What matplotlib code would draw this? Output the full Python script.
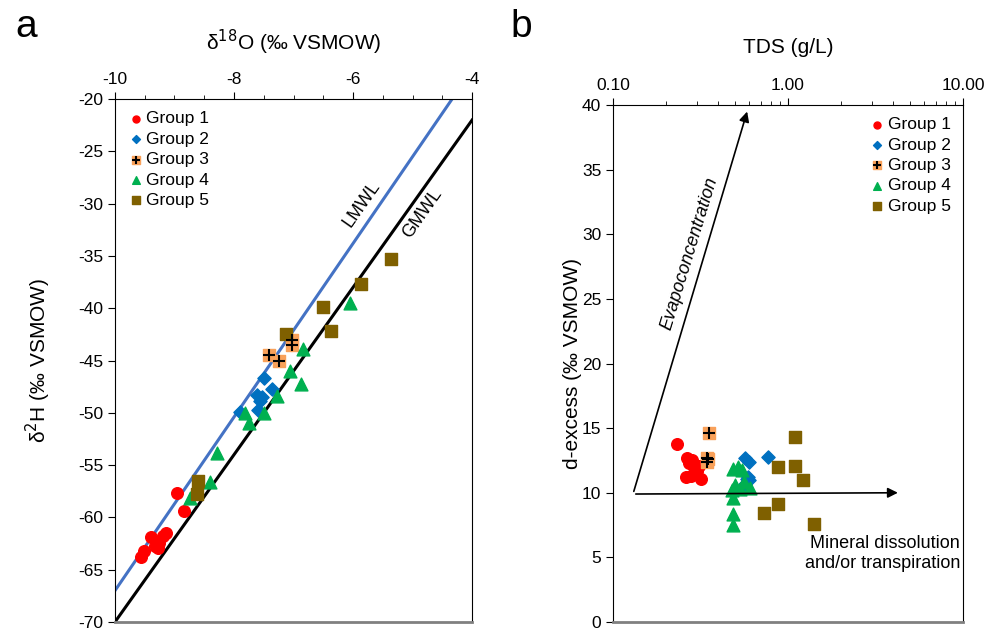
import numpy as np
import matplotlib
matplotlib.use("Agg")
import matplotlib.pyplot as plt
from matplotlib.ticker import FixedLocator, NullFormatter
from matplotlib.legend_handler import HandlerTuple

plt.rcParams["font.family"] = ["Liberation Sans", "DejaVu Sans"]
plt.rcParams["axes.unicode_minus"] = False

# ---- panel a: d18O vs d2H ----
g1_o = [-8.96, -8.84, -9.40, -9.52, -9.57, -9.33, -9.26, -9.20, -9.15, -9.28]
g1_h = [-57.7, -59.4, -61.9, -63.2, -63.8, -62.7, -62.4, -61.8, -61.5, -62.9]
g2_o = [-7.49, -7.37, -7.62, -7.53, -7.56, -7.59, -7.90]
g2_h = [-46.7, -47.7, -48.3, -48.5, -48.9, -49.7, -49.9]
g3_o = [-7.41, -7.25, -7.02, -7.03]
g3_h = [-44.5, -45.0, -43.0, -43.5]
g4_o = [-6.05, -6.84, -7.06, -6.88, -7.28, -7.82, -7.50, -7.74, -8.29, -8.40, -8.74]
g4_h = [-39.5, -43.9, -46.0, -47.2, -48.4, -50.0, -50.0, -51.0, -53.8, -56.6, -58.1]
g5_o = [-6.51, -6.37, -7.13, -8.61, -8.63, -5.36, -5.87]
g5_h = [-39.9, -42.2, -42.5, -56.5, -57.8, -35.3, -37.7]

# ---- panel b: TDS vs d-excess ----
g1_tds = [0.232, 0.266, 0.282, 0.308, 0.301, 0.261, 0.278, 0.317, 0.290, 0.270]
g1_d = [13.8, 12.7, 12.5, 12.1, 11.7, 11.2, 11.3, 11.1, 12.0, 12.3]
g2_tds = [0.568, 0.601, 0.771, 0.581, 0.601, 0.568, 0.590]
g2_d = [12.7, 12.35, 12.8, 11.1, 11.0, 10.7, 11.2]
g3_tds = [0.355, 0.343, 0.343, 0.350]
g3_d = [14.6, 12.7, 12.4, 12.6]
g4_tds = [0.483, 0.520, 0.545, 0.476, 0.531, 0.606, 0.483, 0.483, 0.483, 0.500, 0.560]
g4_d = [11.8, 12.0, 11.75, 10.2, 10.3, 10.4, 9.6, 8.35, 7.5, 10.6, 10.8]
g5_tds = [1.096, 1.096, 0.873, 1.224, 0.873, 0.730, 1.41]
g5_d = [14.3, 12.1, 12.0, 11.0, 9.1, 8.4, 7.6]

red, blue, orange, green, brown = "#FF0000", "#0070C0", "#F9A15A", "#00B050", "#7F6000"


def draw_groups(ax, xs, ys):
    h1 = ax.scatter(xs[0], ys[0], s=70, marker="o", color=red, zorder=3)
    h2 = ax.scatter(xs[1], ys[1], s=45, marker="D", color=blue, zorder=3)
    h3a = ax.scatter(xs[2], ys[2], s=75, marker="s", color=orange, zorder=3)
    h3b = ax.scatter(xs[2], ys[2], s=80, marker="+", color="black", linewidths=1.5, zorder=4)
    h4 = ax.scatter(xs[3], ys[3], s=85, marker="^", color=green, zorder=3)
    h5 = ax.scatter(xs[4], ys[4], s=75, marker="s", color=brown, zorder=3)
    return [h1, h2, (h3a, h3b), h4, h5]


labels = ["Group 1", "Group 2", "Group 3", "Group 4", "Group 5"]
leg_kw = dict(frameon=False, fontsize=12.5, handletextpad=0.1, handlelength=1.0,
              labelspacing=0.3, markerscale=0.6,
              handler_map={tuple: HandlerTuple(ndivide=1, pad=0)})

fig = plt.figure(figsize=(9.92, 6.33), dpi=100)

# panel a
ax1 = fig.add_axes([0.1159, 0.0174, 0.360, 0.826])
xl = np.array([-10, -4])
ax1.plot(xl, 8 * xl + 10, color="black", lw=2.2, zorder=2)
ax1.plot(xl, 8.3 * xl + 16, color="#4472C4", lw=2.2, zorder=2)
hs = draw_groups(ax1, [g1_o, g2_o, g3_o, g4_o, g5_o], [g1_h, g2_h, g3_h, g4_h, g5_h])
ax1.set_xlim(-10, -4)
ax1.set_ylim(-70, -20)
ax1.xaxis.tick_top()
ax1.xaxis.set_label_position("top")
ax1.set_xticks([-10, -8, -6, -4])
ax1.set_xticks(np.arange(-10, -4, 0.5), minor=True)
ax1.set_yticks(np.arange(-70, -19, 5))
ax1.tick_params(labelsize=12.5, direction="out", length=5)
ax1.tick_params(which="minor", direction="out", length=3)
ax1.set_xlabel("δ$^{18}$O (‰ VSMOW)", fontsize=15, labelpad=16)
ax1.set_ylabel("δ$^{2}$H (‰ VSMOW)", fontsize=15, labelpad=18)
ax1.spines["bottom"].set_color("#808080")
ax1.spines["bottom"].set_linewidth(2)
ax1.text(-5.85, -30.0, "LMWL", rotation=55, fontsize=13, ha="center", va="center")
ax1.text(-4.84, -30.9, "GMWL", rotation=55, fontsize=13, ha="center", va="center")
ax1.legend(hs, labels, loc="upper left", borderaxespad=0.3, **leg_kw)
fig.text(0.015, 0.985, "a", fontsize=28, va="top")

# panel b
ax2 = fig.add_axes([0.618, 0.0174, 0.3528, 0.8167])
ax2.set_xscale("log")
hs = draw_groups(ax2, [g1_tds, g2_tds, g3_tds, g4_tds, g5_tds], [g1_d, g2_d, g3_d, g4_d, g5_d])
ax2.set_xlim(0.1, 10)
ax2.set_ylim(0, 40)
ax2.xaxis.tick_top()
ax2.xaxis.set_label_position("top")
ax2.xaxis.set_major_locator(FixedLocator([0.1, 1, 10]))
ax2.set_xticklabels(["0.10", "1.00", "10.00"])
minors = [m * 10.0 ** e for e in (-1, 0) for m in range(2, 10)]
ax2.xaxis.set_minor_locator(FixedLocator(minors))
ax2.xaxis.set_minor_formatter(NullFormatter())
ax2.set_yticks(np.arange(0, 41, 5))
ax2.tick_params(labelsize=12.5, direction="out", length=5)
ax2.tick_params(which="minor", direction="out", length=3)
ax2.set_xlabel("TDS (g/L)", fontsize=15, labelpad=18)
ax2.set_ylabel("d-excess (‰ VSMOW)", fontsize=15, labelpad=0)
ax2.spines["bottom"].set_color("#808080")
ax2.spines["bottom"].set_linewidth(2)
ax2.annotate("", xy=(4.4, 10.0), xytext=(0.13, 9.9),
             arrowprops=dict(arrowstyle="-|>", color="black", lw=1.2, mutation_scale=15))
ax2.annotate("", xy=(0.59, 39.7), xytext=(0.13, 9.9),
             arrowprops=dict(arrowstyle="-|>", color="black", lw=1.2, mutation_scale=15))
ax2.text(0.272, 28.5, "Evapoconcentration", rotation=73, fontsize=13, style="italic",
         ha="center", va="center")
ax2.text(9.6, 5.3, "Mineral dissolution\nand/or transpiration", fontsize=13,
         ha="right", va="center", linespacing=1.25)
ax2.legend(hs, labels, loc="upper right", borderaxespad=0.3, **leg_kw)
fig.text(0.515, 0.985, "b", fontsize=28, va="top")

fig.savefig("out.png", dpi=100)
